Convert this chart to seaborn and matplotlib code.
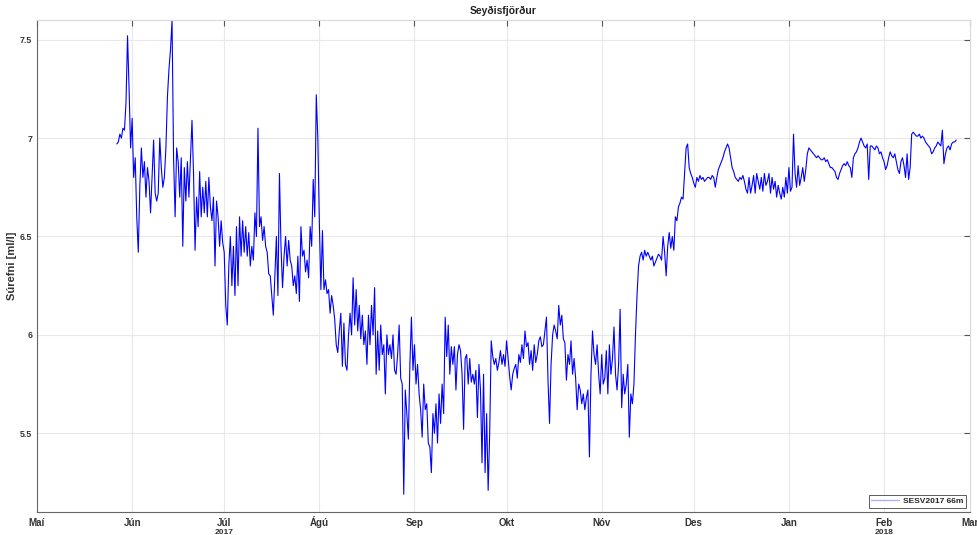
import matplotlib
matplotlib.use("Agg")
import matplotlib.pyplot as plt
import matplotlib.transforms as mtransforms
import seaborn as sns
import pandas as pd
import numpy as np

# ---------------- data (12-hour samples, starting 2017-05-27) ----------------
start_time = "2017-05-27"
may_jun = [6.97, 6.98, 7.02, 7.00, 7.05, 7.04, 7.18, 7.52, 7.25, 6.95,
           7.10, 6.80, 6.90, 6.60, 6.42, 6.75, 6.95, 6.80, 6.88, 6.70,
           6.85, 6.78, 6.62, 6.80, 6.99, 6.72, 6.68, 6.72, 7.00, 6.85,
           6.75, 6.80, 6.95, 7.21, 7.35, 7.45, 7.60, 6.90, 6.60, 6.95,
           6.88, 6.70, 6.90, 6.45, 6.85, 6.68, 6.88, 6.70, 6.90, 7.09,
           6.82, 6.43, 6.70, 6.55, 6.83, 6.60, 6.75, 6.62, 6.78, 6.60,
           6.80, 6.65, 6.58, 6.70, 6.35, 6.68, 6.60, 6.45, 6.58, 6.47]
jul = [6.42, 6.15, 6.05, 6.35, 6.50, 6.25, 6.45, 6.20, 6.55, 6.25,
       6.60, 6.40, 6.58, 6.42, 6.55, 6.40, 6.52, 6.35, 6.45, 6.38,
       6.62, 6.50, 7.05, 6.55, 6.60, 6.48, 6.55, 6.45, 6.42, 6.31,
       6.30, 6.20, 6.10, 6.30, 6.50, 6.20, 6.82, 6.45, 6.24, 6.40,
       6.50, 6.35, 6.48, 6.38, 6.35, 6.25, 6.30, 6.21, 6.40, 6.17,
       6.55, 6.40, 6.43, 6.32, 6.38, 6.29, 6.55, 6.45, 6.79, 6.60,
       7.22, 7.00]
aug = [6.57, 6.23, 6.53, 6.23, 6.28, 6.21, 6.23, 6.11, 6.20, 6.15,
       6.08, 5.95, 5.91, 6.02, 6.11, 5.84, 6.06, 5.85, 5.82, 6.00,
       6.11, 6.00, 6.29, 6.05, 6.23, 6.02, 6.15, 5.98, 6.10, 5.95,
       6.02, 5.85, 6.10, 5.95, 6.15, 6.00, 6.24, 5.80, 6.02, 5.82,
       6.05, 5.90, 5.95, 5.70, 6.00, 5.90, 5.95, 5.88, 6.00, 5.82,
       5.80, 5.90, 6.05, 5.78, 5.75, 5.19, 5.72, 5.60, 5.47, 5.85,
       6.09, 5.82]
sep = [5.95, 5.75, 5.85, 5.70, 5.62, 5.48, 5.75, 5.62, 5.65, 5.45,
       5.43, 5.30, 5.60, 5.50, 5.65, 5.45, 5.70, 5.55, 5.75, 5.60,
       6.09, 5.89, 6.05, 5.80, 5.94, 5.85, 5.94, 5.72, 5.90, 5.95,
       5.92, 5.80, 5.52, 5.88, 5.90, 5.75, 5.88, 5.76, 5.80, 5.75,
       5.82, 5.58, 5.85, 5.72, 5.35, 5.80, 5.30, 5.60, 5.21, 5.50,
       5.97, 5.89, 5.85, 5.88, 5.82, 5.86, 5.92, 5.85, 5.90, 5.84]
okt = [5.97, 5.88, 5.79, 5.72, 5.80, 5.83, 5.85, 5.78, 5.90, 5.86,
       5.95, 5.88, 6.02, 5.94, 5.96, 5.85, 5.92, 5.82, 5.95, 5.86,
       5.90, 5.97, 5.99, 5.94, 5.95, 6.02, 6.09, 5.77, 5.55, 5.85,
       6.00, 6.05, 6.02, 5.98, 6.15, 6.05, 6.10, 5.98, 5.96, 5.77,
       5.90, 5.85, 5.97, 5.80, 5.88, 5.78, 5.62, 5.75, 5.72, 5.65,
       5.70, 5.62, 5.68, 5.72, 5.38, 5.80, 6.02, 5.90, 5.85, 5.95,
       5.80, 5.70]
nov = [5.90, 5.75, 5.78, 5.92, 5.70, 5.95, 5.80, 5.88, 6.04, 5.80,
       5.72, 5.85, 6.13, 5.63, 5.80, 5.70, 5.75, 5.85, 5.48, 5.70,
       5.65, 5.75, 6.00, 6.20, 6.35, 6.40, 6.42, 6.38, 6.43, 6.40,
       6.42, 6.40, 6.38, 6.40, 6.35, 6.37, 6.39, 6.41, 6.40, 6.38,
       6.50, 6.42, 6.30, 6.45, 6.52, 6.44, 6.50, 6.43, 6.60, 6.58,
       6.65, 6.67, 6.70, 6.69, 6.82, 6.95, 6.97, 6.85, 6.82, 6.80]
des = [6.77, 6.75, 6.80, 6.78, 6.81, 6.79, 6.80, 6.78, 6.79, 6.80,
       6.80, 6.79, 6.81, 6.80, 6.75, 6.80, 6.84, 6.86, 6.88, 6.90,
       6.93, 6.95, 6.97, 6.95, 6.90, 6.85, 6.83, 6.80, 6.79, 6.78,
       6.80, 6.79, 6.81, 6.78, 6.74, 6.72, 6.80, 6.72, 6.76, 6.81,
       6.72, 6.82, 6.78, 6.74, 6.80, 6.73, 6.82, 6.76, 6.78, 6.82,
       6.72, 6.80, 6.74, 6.78, 6.70, 6.76, 6.72, 6.69, 6.75, 6.70,
       6.80, 6.72]
jan = [6.85, 6.73, 6.75, 7.02, 6.82, 6.75, 6.86, 6.76, 6.80, 6.85,
       6.78, 6.84, 6.92, 6.95, 6.94, 6.93, 6.92, 6.91, 6.90, 6.91,
       6.90, 6.89, 6.89, 6.90, 6.88, 6.89, 6.87, 6.85, 6.85, 6.84,
       6.83, 6.80, 6.79, 6.82, 6.84, 6.86, 6.87, 6.86, 6.88, 6.86,
       6.85, 6.80, 6.90, 6.92, 6.93, 6.95, 6.98, 7.00, 6.98, 6.96,
       6.95, 6.97, 6.79, 6.96, 6.96, 6.95, 6.94, 6.96, 6.95, 6.92,
       6.93, 6.90]
feb = [6.88, 6.84, 6.86, 6.90, 6.93, 6.91, 6.90, 6.92, 6.88, 6.84,
       6.82, 6.88, 6.90, 6.86, 6.80, 6.92, 6.79, 6.85, 7.02, 7.03,
       7.02, 7.01, 7.01, 7.02, 7.00, 7.01, 7.00, 6.98, 6.97, 6.96,
       6.95, 6.92, 6.93, 6.95, 6.96, 6.98, 6.97, 6.96, 7.04, 6.87,
       6.92, 6.95, 6.96, 6.94, 6.97, 6.98, 6.98, 6.99]

month_ticks = ["2017-05-01", "2017-06-01", "2017-07-01", "2017-08-01", "2017-09-01",
               "2017-10-01", "2017-11-01", "2017-12-01", "2018-01-01", "2018-02-01",
               "2018-03-01"]
month_labels = ["Maí", "Jún", "Júl", "Ágú", "Sep", "Okt", "Nóv", "Des", "Jan",
                "Feb", "Mar"]
year_ticks = ["2017-07-01", "2018-02-01"]
year_labels = ["2017", "2018"]
y_ticks = [5.5, 6.0, 6.5, 7.0, 7.5]
y_labels = ["5.5", "6", "6.5", "7", "7.5"]
series_name = "SESV2017 66m"

# ---------------- build frame ----------------
values = may_jun + jul + aug + sep + okt + nov + des + jan + feb
times = pd.date_range(start=start_time, periods=len(values), freq="12h")
df = pd.DataFrame({"time": times, "oxygen": values})

sns.set_style("whitegrid")
plt.rcParams["font.family"] = ["Liberation Sans", "DejaVu Sans"]

fig = plt.figure(figsize=(9.77, 5.35), dpi=100)
ax = fig.add_axes([37 / 977, 1 - 512 / 535, (970 - 37) / 977, (512 - 20) / 535])

sns.lineplot(data=df, x="time", y="oxygen", color="#0000ff", linewidth=0.8,
             ax=ax, label=series_name, estimator=None, sort=False)

ax.set_xlim(pd.Timestamp(month_ticks[0]), pd.Timestamp(month_ticks[-1]))
ax.set_ylim(5.1, 7.6)
ax.set_xticks(pd.to_datetime(month_ticks))
ax.set_xticklabels(month_labels, fontsize=7, fontweight="bold", color="#333333",
                   va="baseline")
ax.set_yticks(y_ticks)
ax.set_yticklabels(y_labels, fontsize=6.3, fontweight="bold", color="#333333")

ax.grid(True, color="#e8e8e8", linewidth=0.8)
ax.set_axisbelow(True)
ax.tick_params(axis="both", which="both", direction="in", length=4, width=0.8,
               color="#555555", top=True, right=True)
ax.tick_params(axis="x", pad=10)
ax.tick_params(axis="y", pad=3.5)

# year labels beneath the month labels
trans = mtransforms.blended_transform_factory(ax.transData, fig.transFigure)
for d, lab in zip(year_ticks, year_labels):
    ax.text(pd.Timestamp(d), 1 - 534.5 / 535, lab, transform=trans, ha="center",
            va="baseline", fontsize=6, fontweight="bold", color="#333333",
            clip_on=False)

for side in ["left", "bottom"]:
    ax.spines[side].set_color("#666666")
    ax.spines[side].set_linewidth(0.8)
for side in ["top", "right"]:
    ax.spines[side].set_color("#d9d9d9")
    ax.spines[side].set_linewidth(0.8)

ax.set_xlabel("")
ax.set_ylabel("Súrefni [ml/l]", fontsize=8, fontweight="bold", color="#333333")
ax.yaxis.set_label_coords(-0.0215, 0.5)
ax.set_title("Seyðisfjörður", fontsize=7.5, fontweight="bold", color="#222222", pad=4)

leg = ax.legend(loc="lower right", fontsize=6, frameon=True, fancybox=False,
                borderpad=0.3, handlelength=3.3, handletextpad=0.5,
                borderaxespad=0.5)
leg.get_frame().set_edgecolor("#333333")
leg.get_frame().set_linewidth(0.7)
for t in leg.get_texts():
    t.set_fontweight("bold")
for h in leg.get_lines():
    h.set_color("#b0b0ff")
    h.set_linewidth(1.0)

fig.savefig("out.png", dpi=100)
